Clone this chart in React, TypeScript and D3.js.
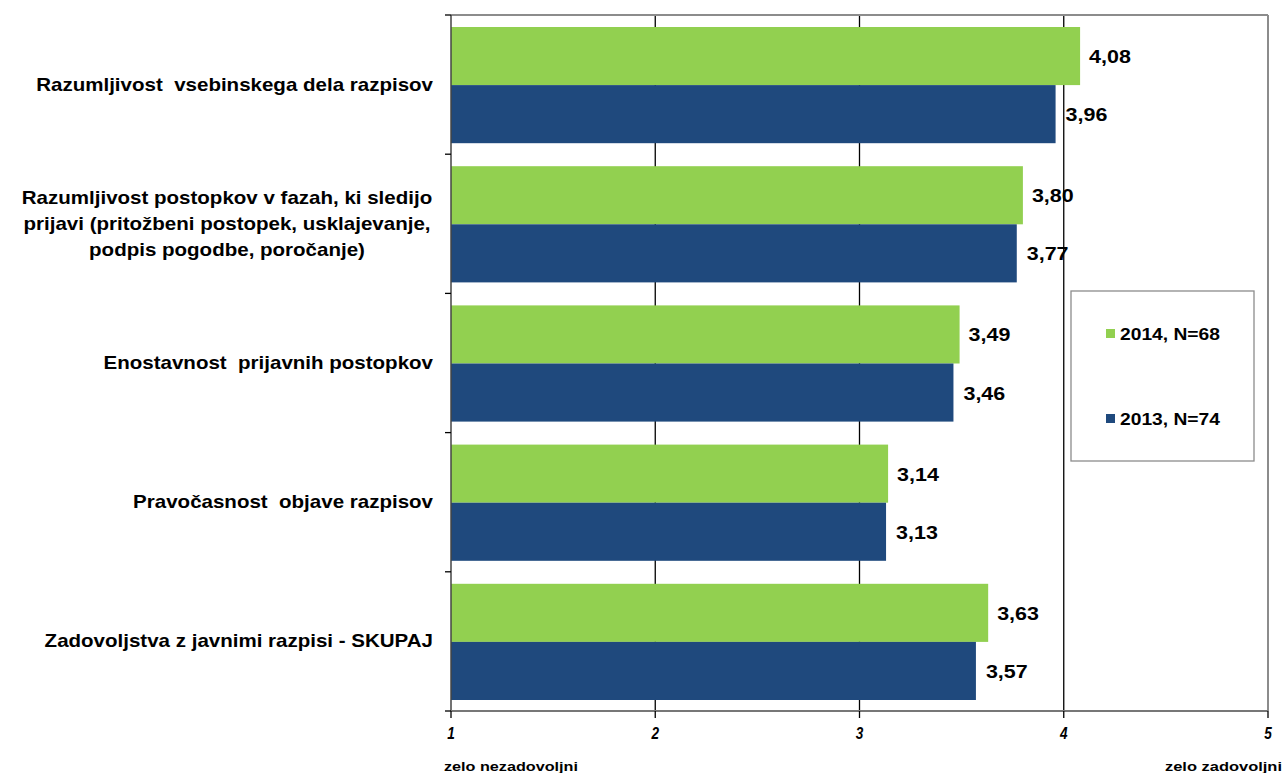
import React from "react";
import * as d3 from "d3";

const categories: string[][] = [
  ["Razumljivost  vsebinskega dela razpisov"],
  ["Razumljivost postopkov v fazah, ki sledijo", "prijavi (pritožbeni postopek, usklajevanje,", "podpis pogodbe, poročanje)"],
  ["Enostavnost  prijavnih postopkov"],
  ["Pravočasnost  objave razpisov"],
  ["Zadovoljstva z javnimi razpisi - SKUPAJ"],
];
const values2014 = [4.08, 3.8, 3.49, 3.14, 3.63];
const values2013 = [3.96, 3.77, 3.46, 3.13, 3.57];
const seriesNames = ["2014, N=68", "2013, N=74"];
const colors = ["#92d050", "#1f497d"];
const xTicks = [1, 2, 3, 4, 5];

const font = "'Liberation Sans', Arial, sans-serif";

function T(props: {
  x: number; y: number; sx?: number; size: number; anchor?: string; bold?: boolean; italic?: boolean; children: React.ReactNode;
}) {
  const { x, y, sx = 1, size, anchor = "start", bold = true, italic = false, children } = props;
  return (
    <g transform={`translate(${x},${y}) scale(${sx},1)`}>
      <text x={0} y={0} textAnchor={anchor} fontSize={size} fontWeight={bold ? "bold" : "normal"}
        fontStyle={italic ? "italic" : "normal"} fill="#000" style={{ whiteSpace: "pre" }}>
        {children}
      </text>
    </g>
  );
}

export default function App() {
  const W = 1287, H = 773;
  const left = 451, right = 1268, top = 15, bottom = 711;
  const x = d3.scaleLinear().domain([1, 5]).range([left, right]);
  const y = d3.scaleBand<number>().domain(d3.range(categories.length)).range([top, bottom]).paddingInner(0).paddingOuter(0);
  const bw = y.bandwidth();
  const pad = 12;
  const barH = (bw - 2 * pad + 1) / 2;
  const fmt = (v: number) => v.toFixed(2).replace(".", ",");
  return (
    <svg width={W} height={H} style={{ position: "absolute", left: 0, top: 0 }} fontFamily={font}>
      <rect x={0} y={0} width={W} height={H} fill="#fff" />
      {xTicks.slice(1, 4).map((t) => (
        <line key={t} x1={x(t)} x2={x(t)} y1={top} y2={bottom} stroke="#000" strokeWidth={1.3} />
      ))}
      <line x1={left} x2={right} y1={top} y2={top} stroke="#8c8c8c" strokeWidth={2} />
      <line x1={right} x2={right} y1={top} y2={bottom} stroke="#8c8c8c" strokeWidth={2} />
      {categories.map((_, i) => {
        const y0 = (y(i) as number) + pad;
        return (
          <g key={i}>
            <rect x={x(1)} y={y0} width={x(values2014[i]) - x(1)} height={barH} fill={colors[0]} />
            <rect x={x(1)} y={y0 + barH} width={x(values2013[i]) - x(1)} height={barH} fill={colors[1]} />
            <T x={x(values2014[i]) + 9} y={y0 + barH / 2 + 7} size={19} sx={1.13}>{fmt(values2014[i])}</T>
            <T x={x(values2013[i]) + 10} y={y0 + barH * 1.5 + 7} size={19} sx={1.13}>{fmt(values2013[i])}</T>
          </g>
        );
      })}
      <line x1={left} x2={left} y1={top} y2={bottom} stroke="#444" strokeWidth={1.5} />
      <line x1={left} x2={right} y1={bottom} y2={bottom} stroke="#777" strokeWidth={2} />
      {d3.range(categories.length + 1).map((i) => {
        const yy = top + i * bw;
        return <line key={i} x1={left - 6} x2={left} y1={yy} y2={yy} stroke="#000" strokeWidth={1.3} />;
      })}
      {xTicks.map((t) => (
        <g key={t}>
          <line x1={x(t)} x2={x(t)} y1={bottom} y2={bottom + 7} stroke="#000" strokeWidth={1.3} />
          <T x={x(t)} y={739} size={16} sx={0.85} anchor="middle" italic>{t}</T>
        </g>
      ))}
      <text x={444} y={771} fontSize={13} fontWeight="bold" fill="#000" textLength={134} lengthAdjust="spacingAndGlyphs">zelo nezadovoljni</text>
      <text x={1165} y={771} fontSize={13} fontWeight="bold" fill="#000" textLength={117} lengthAdjust="spacingAndGlyphs">zelo zadovoljni</text>
      {categories.map((lines, i) => {
        const cy = (y(i) as number) + bw / 2;
        const lh = 26;
        const start = cy - ((lines.length - 1) * lh) / 2;
        const multi = lines.length > 1;
        return (
          <g key={i}>
            {lines.map((l, j) => (
              <T key={j} x={multi ? 227 : 433} y={start + j * lh + 6} size={18} sx={1.14} anchor={multi ? "middle" : "end"}>{l}</T>
            ))}
          </g>
        );
      })}
      <rect x={1071} y={291} width={183} height={170} fill="#fff" stroke="#8c8c8c" strokeWidth={1.3} />
      {seriesNames.map((s, i) => {
        const cy = i === 0 ? 333.5 : 418.5;
        return (
          <g key={s}>
            <rect x={1106} y={cy - 4.5} width={9} height={9} fill={colors[i]} />
            <text x={1120} y={cy + 6.5} fontSize={17} fontWeight="bold" fill="#000" textLength={100} lengthAdjust="spacingAndGlyphs">{s}</text>
          </g>
        );
      })}
    </svg>
  );
}
